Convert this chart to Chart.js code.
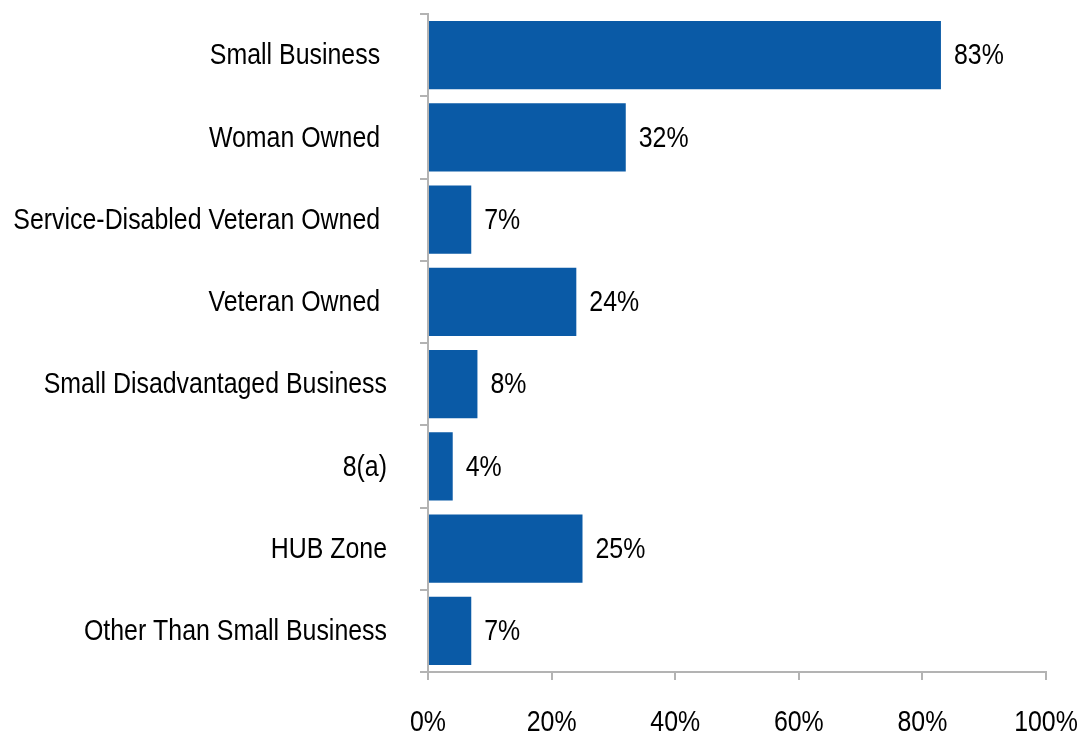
<!DOCTYPE html>
<html>
<head>
<meta charset="utf-8">
<script src="https://cdn.jsdelivr.net/npm/chart.js@4"></script>
<style>
  html, body { margin: 0; padding: 0; background: #fff; }
  #wrap { width: 1084px; height: 739px; }
</style>
</head>
<body>
<div id="wrap"><canvas id="chart"></canvas></div>
<script>
const categories = ['Small Business ', 'Woman Owned ', 'Service-Disabled Veteran Owned ', 'Veteran Owned ',
                    'Small Disadvantaged Business', '8(a)', 'HUB Zone', 'Other Than Small Business'];
const shares = [83, 32, 7, 24, 8, 4, 25, 7];
const xTicks = [0, 20, 40, 60, 80, 100];

const fontFamily = '"Liberation Sans", Arial, sans-serif';
const fontSize = 30;
const squeeze = 0.83;   // the original uses a narrow face, so squeeze the text sideways
const axisGray = '#b3b3b3';

// draw text horizontally condensed
function narrowText(ctx, text, x, y, align) {
  ctx.save();
  ctx.translate(x, y);
  ctx.scale(squeeze, 1);
  ctx.textAlign = align;
  ctx.fillText(text, 0, 0);
  ctx.restore();
}

const textLabels = {
  id: 'textLabels',
  afterDraw(chart) {
    const ctx = chart.ctx;
    const xs = chart.scales.x, ys = chart.scales.y;
    ctx.save();
    ctx.font = fontSize + 'px ' + fontFamily;
    ctx.fillStyle = '#000';
    ctx.textBaseline = 'middle';
    // category labels
    categories.forEach((c, i) => {
      narrowText(ctx, c, xs.left - 41, ys.getPixelForValue(i) + 1, 'right');
    });
    // x tick labels
    xTicks.forEach(v => {
      narrowText(ctx, v + '%', xs.getPixelForValue(v), 723, 'center');
    });
    // value labels next to the bars
    chart.getDatasetMeta(0).data.forEach((bar, i) => {
      narrowText(ctx, shares[i] + '%', bar.x + 13, bar.y + 1, 'left');
    });
    ctx.restore();
  }
};

new Chart(document.getElementById('chart'), {
  type: 'bar',
  data: {
    labels: categories,
    datasets: [{
      data: shares,
      backgroundColor: '#0a5aa6',
      barPercentage: 0.827,
      categoryPercentage: 1.0
    }]
  },
  options: {
    indexAxis: 'y',
    responsive: true,
    maintainAspectRatio: false,
    animation: false,
    layout: { padding: { top: 14, right: 38, bottom: 0, left: 0 } },
    plugins: { legend: { display: false }, tooltip: { enabled: false } },
    scales: {
      x: {
        min: 0, max: 100,
        afterBuildTicks: scale => { scale.ticks = xTicks.map(v => ({ value: v })); },
        afterFit: scale => { scale.height = 67; scale.paddingLeft = 0; scale.paddingRight = 0; },
        border: { color: axisGray, width: 2 },
        grid: { drawOnChartArea: false, color: axisGray, lineWidth: 2, tickLength: 8 },
        ticks: { display: false }
      },
      y: {
        afterFit: scale => { scale.width = 428; scale.paddingTop = 0; scale.paddingBottom = 0; },
        border: { color: axisGray, width: 2 },
        grid: { drawOnChartArea: false, color: axisGray, lineWidth: 2, tickLength: 8, offset: true },
        ticks: { display: false }
      }
    }
  },
  plugins: [textLabels]
});
</script>
</body>
</html>
